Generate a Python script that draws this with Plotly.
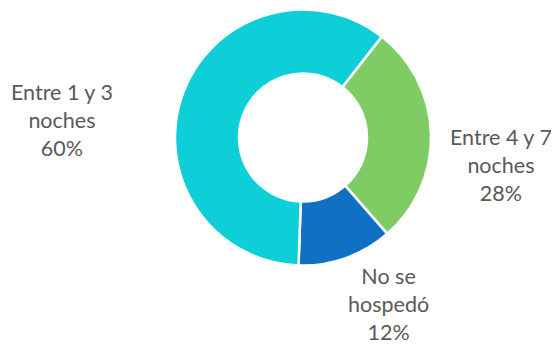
import plotly.graph_objects as go

categorias = ["Entre 4 y 7 noches", "No se hospedó", "Entre 1 y 3 noches"]
etiquetas = ["Entre 4 y 7<br>noches", "No se<br>hospedó", "Entre 1 y 3<br>noches"]
porcentajes = [28, 12, 60]
colores = ["#7fcb64", "#1070c4", "#0ecfd8"]

# the page body adds an 8px margin, so the figure is 8px smaller each way
W, H = 551, 336

# label anchors (paper coords) for each slice
pos_x = [493 / W, 380 / W, 54 / W]
pos_y = [1 - 157 / H, 1 - 296 / H, 1 - 112 / H]

fig = go.Figure(go.Pie(
    labels=categorias,
    values=porcentajes,
    hole=0.5,
    sort=False,
    direction="clockwise",
    rotation=38,
    textinfo="none",
    hoverinfo="label+percent",
    marker=dict(colors=colores, line=dict(color="white", width=2.5)),
    domain=dict(x=[167 / W, 423 / W], y=[78.5 / H, 334.5 / H]),
    showlegend=False,
))

for etq, pct, x, y in zip(etiquetas, porcentajes, pos_x, pos_y):
    fig.add_annotation(
        x=x, y=y, xref="paper", yref="paper",
        text=f"{etq}<br>{pct}%",
        showarrow=False, align="center",
        xanchor="center", yanchor="middle",
        font=dict(family="Lato, Open Sans, sans-serif", size=21.5, color="#595959"),
    )

fig.update_layout(
    width=W, height=H,
    margin=dict(l=0, r=0, t=0, b=0),
    paper_bgcolor="white",
    plot_bgcolor="white",
)

fig.write_html("out.html")
